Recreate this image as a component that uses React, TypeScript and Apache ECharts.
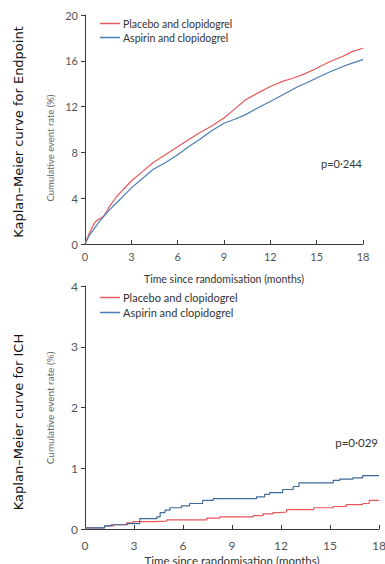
import React, { useEffect, useRef } from "react";
import * as echarts from "echarts";

// Top chart (Endpoint): Kaplan–Meier cumulative event rate (%)
const topPlaceboMonths = [0, 0.3, 0.6, 0.8, 1.2, 1.6, 2.05, 2.5, 3, 3.7, 4.4, 5.2, 6, 6.7, 7.4, 8.2, 9, 9.7, 10.4, 11.2, 12, 12.8, 13.5, 14.3, 15, 15.8, 16.7, 17.3, 18];
const topPlaceboRate = [0, 1.0, 1.8, 2.1, 2.4, 3.3, 4.15, 4.8, 5.5, 6.3, 7.1, 7.8, 8.5, 9.1, 9.7, 10.3, 11.0, 11.8, 12.6, 13.2, 13.75, 14.2, 14.5, 14.9, 15.35, 15.9, 16.4, 16.8, 17.1];
const topAspirinMonths = [0, 0.3, 0.55, 0.9, 1.2, 1.6, 2.05, 2.5, 3, 3.7, 4.4, 5.2, 6, 6.7, 7.4, 8.2, 9, 9.7, 10.4, 11.2, 12, 12.9, 13.8, 14.4, 15, 15.8, 16.7, 17.3, 18];
const topAspirinRate = [0, 0.8, 1.25, 1.9, 2.4, 3.0, 3.6, 4.2, 4.9, 5.7, 6.5, 7.1, 7.8, 8.5, 9.1, 9.9, 10.55, 10.9, 11.3, 11.9, 12.45, 13.1, 13.75, 14.1, 14.5, 15.0, 15.5, 15.8, 16.1];

// Bottom chart (ICH)
const ichAspirinMonths = [0, 1.2, 1.6, 2.6, 3.35, 4.4, 4.6, 4.9, 5.2, 5.9, 6.4, 7.2, 7.85, 10.5, 11.0, 11.3, 12.1, 12.75, 13.1, 15.2, 15.6, 16.4, 17.0, 18];
const ichAspirinRate = [0.02, 0.05, 0.07, 0.09, 0.17, 0.2, 0.27, 0.31, 0.35, 0.38, 0.42, 0.47, 0.5, 0.53, 0.57, 0.6, 0.65, 0.7, 0.76, 0.8, 0.82, 0.84, 0.88, 0.88];
const ichPlaceboMonths = [0, 1.2, 1.75, 2.55, 2.95, 4.2, 5.0, 7.45, 8.25, 10.3, 10.9, 11.5, 11.9, 12.35, 14.0, 15.2, 16.0, 17.0, 17.4, 18];
const ichPlaceboRate = [0.02, 0.05, 0.07, 0.1, 0.12, 0.13, 0.15, 0.18, 0.2, 0.22, 0.25, 0.27, 0.28, 0.32, 0.35, 0.37, 0.4, 0.42, 0.47, 0.47];

const seriesNames = ["Placebo and clopidogrel", "Aspirin and clopidogrel"];
const panelTitles = ["Kaplan\u2013Meier curve for Endpoint", "Kaplan\u2013Meier curve for ICH"];
const pValues = ["p=0\u00b7244", "p=0\u00b7029"];
const yAxisTitle = "Cumulative event rate (%)";
const xAxisTitle = "Time since randomisation (months)";

const RED = "#e5585c";
const BLUE = "#4a7db6";
const BLUE2 = "#3f6a9c";
const AXIS = "#3a3a3a";
const LABEL = "#555";
const FONT = "Lato";

const zip = (a: number[], b: number[]) => a.map((t, i) => [t, b[i]]);

export default function App() {
  const ref = useRef<HTMLDivElement>(null);
  useEffect(() => {
    if (!ref.current) return;
    const chart = echarts.init(ref.current, null, { renderer: "svg" });
    const xAxisBase = (gridIndex: number, fs: number, margin: number, gap: number) => ({
      type: "value",
      gridIndex,
      min: 0,
      max: 18,
      interval: 3,
      name: xAxisTitle,
      nameLocation: "middle",
      nameGap: gap,
      nameTextStyle: { color: "#333", fontSize: fs, fontFamily: FONT },
      axisLine: { lineStyle: { color: AXIS, width: 1 } },
      axisTick: { inside: true, length: 4, lineStyle: { color: AXIS } },
      axisLabel: { color: LABEL, fontSize: fs + 0.5, fontFamily: FONT, margin },
      splitLine: { show: false },
    });
    const yAxisBase = (gridIndex: number, max: number, interval: number, fs: number) => ({
      type: "value",
      gridIndex,
      min: 0,
      max,
      interval,
      axisLine: { show: true, lineStyle: { color: AXIS, width: 1 } },
      axisTick: { show: true, inside: false, length: 4, lineStyle: { color: AXIS } },
      axisLabel: { color: LABEL, fontSize: fs, fontFamily: FONT, margin: 7 },
      splitLine: { show: false },
    });
    const option: any = {
      animation: false,
      backgroundColor: "#fff",
      grid: [
        { left: 85, top: 15, width: 278, height: 229, containLabel: false, outerBoundsMode: "none" },
        { left: 85, top: 286, width: 294, height: 243, containLabel: false, outerBoundsMode: "none" },
      ],
      xAxis: [xAxisBase(0, 10.5, 7, 29), xAxisBase(1, 11.5, 10, 25)],
      yAxis: [yAxisBase(0, 20, 4, 11), yAxisBase(1, 4, 1, 12)],
      legend: [
        {
          left: 95,
          top: 13,
          orient: "vertical",
          itemGap: 3,
          itemWidth: 20,
          itemHeight: 1.5,
          icon: "rect",
          textStyle: { color: "#333", fontSize: 10.5, fontFamily: FONT, padding: [0, 0, 0, -2] },
          data: seriesNames,
        },
        {
          left: 95,
          top: 287,
          orient: "vertical",
          itemGap: 4,
          itemWidth: 20,
          itemHeight: 1.5,
          icon: "rect",
          textStyle: { color: "#333", fontSize: 11, fontFamily: FONT, padding: [0, 0, 0, -2] },
          data: seriesNames,
        },
      ],
      series: [
        {
          name: seriesNames[0],
          type: "line",
          xAxisIndex: 0,
          yAxisIndex: 0,
          showSymbol: false,
          data: zip(topPlaceboMonths, topPlaceboRate),
          lineStyle: { color: RED, width: 1.2 },
          itemStyle: { color: RED },
        },
        {
          name: seriesNames[1],
          type: "line",
          xAxisIndex: 0,
          yAxisIndex: 0,
          showSymbol: false,
          data: zip(topAspirinMonths, topAspirinRate),
          lineStyle: { color: BLUE, width: 1.2 },
          itemStyle: { color: BLUE },
        },
        {
          name: seriesNames[0],
          type: "line",
          step: "end",
          xAxisIndex: 1,
          yAxisIndex: 1,
          showSymbol: false,
          data: zip(ichPlaceboMonths, ichPlaceboRate),
          lineStyle: { color: RED, width: 1.2 },
          itemStyle: { color: RED },
        },
        {
          name: seriesNames[1],
          type: "line",
          step: "end",
          xAxisIndex: 1,
          yAxisIndex: 1,
          showSymbol: false,
          data: zip(ichAspirinMonths, ichAspirinRate),
          lineStyle: { color: BLUE2, width: 1.2 },
          itemStyle: { color: BLUE2 },
        },
      ],
      graphic: [
        {
          type: "text",
          x: 18,
          y: 132,
          rotation: Math.PI / 2,
          style: { text: panelTitles[0], fill: "#111", fontSize: 13, fontFamily: "DejaVu Sans", textAlign: "center", textVerticalAlign: "middle" },
        },
        {
          type: "text",
          x: 18,
          y: 422,
          rotation: Math.PI / 2,
          style: { text: panelTitles[1], fill: "#111", fontSize: 13, fontFamily: "DejaVu Sans", textAlign: "center", textVerticalAlign: "middle" },
        },
        {
          type: "text",
          x: 50,
          y: 148,
          rotation: Math.PI / 2,
          style: { text: yAxisTitle, fill: "#666", fontSize: 9.5, fontFamily: FONT, textAlign: "center", textVerticalAlign: "middle" },
        },
        {
          type: "text",
          x: 50,
          y: 408,
          rotation: Math.PI / 2,
          style: { text: yAxisTitle, fill: "#666", fontSize: 10, fontFamily: FONT, textAlign: "center", textVerticalAlign: "middle" },
        },
        {
          type: "text",
          x: 362,
          y: 163,
          style: { text: pValues[0], fill: "#333", fontSize: 11, fontFamily: FONT, textAlign: "right", textVerticalAlign: "middle" },
        },
        {
          type: "text",
          x: 378,
          y: 442,
          style: { text: pValues[1], fill: "#333", fontSize: 11.5, fontFamily: FONT, textAlign: "right", textVerticalAlign: "middle" },
        },
      ],
    };
    chart.setOption(option);
    return () => chart.dispose();
  }, []);
  return <div ref={ref} style={{ position: "fixed", left: 0, top: 0, width: 385, height: 564 }} />;
}
